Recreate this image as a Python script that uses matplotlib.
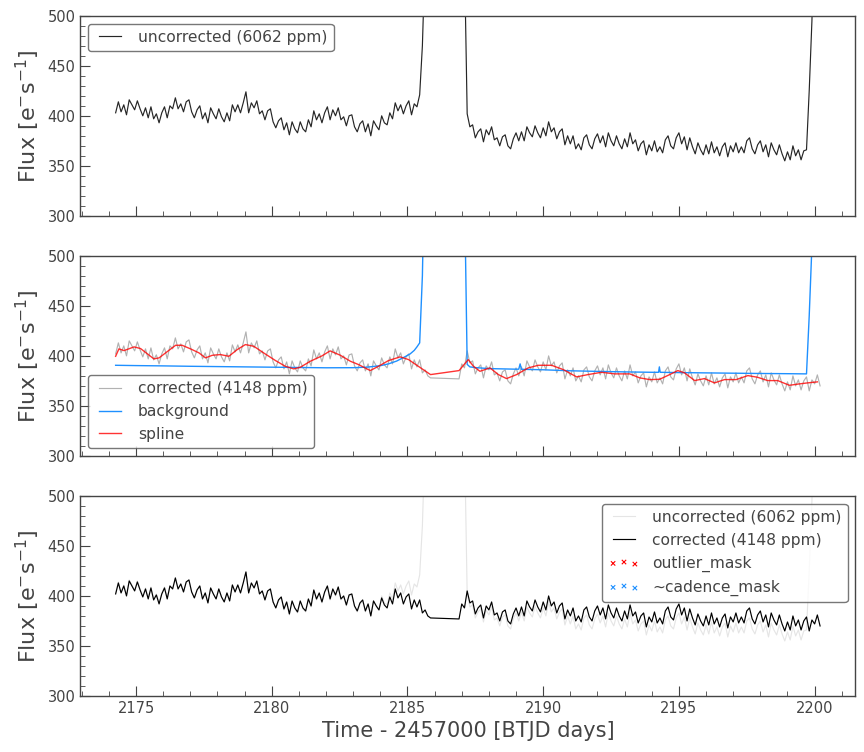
import numpy as np
import matplotlib
matplotlib.use('Agg')
import matplotlib.pyplot as plt

TXT = '#444444'
plt.rcParams.update({
    'font.family': 'DejaVu Sans', 'font.size': 10.5,
    'text.color': TXT, 'axes.labelcolor': TXT, 'axes.edgecolor': TXT,
    'xtick.color': TXT, 'ytick.color': TXT, 'axes.linewidth': 1.0,
    'xtick.direction': 'in', 'ytick.direction': 'in',
    'xtick.minor.visible': True, 'ytick.minor.visible': True,
    'xtick.major.size': 7, 'xtick.minor.size': 3.5,
    'ytick.major.size': 7, 'ytick.minor.size': 3.5,
    'xtick.labelsize': 10.5, 'ytick.labelsize': 10.5,
    'axes.labelsize': 16, 'legend.fontsize': 11.2,
    'legend.numpoints': 3, 'legend.scatterpoints': 3,
    'legend.edgecolor': '#555555', 'legend.fancybox': True,
})

# cadence times (BTJD), two orbits
t_orb1 = np.round(np.arange(2174.25, 2185.86, 0.1), 2)
t_orb2 = np.round(np.arange(2186.9, 2200.21, 0.1), 2)

unc_orb1 = [403, 414, 404, 411, 401, 416, 411, 406, 415, 407,
            400, 408, 398, 409, 397, 402, 393, 403, 409, 398,
            410, 407, 418, 407, 412, 404, 414, 416, 404, 398,
            406, 410, 397, 403, 393, 408, 402, 397, 407, 399,
            394, 403, 395, 411, 404, 411, 403, 413, 424, 403,
            413, 408, 415, 402, 405, 396, 405, 407, 394, 388,
            395, 398, 386, 393, 381, 394, 387, 383, 394, 387,
            384, 396, 389, 405, 396, 402, 393, 403, 409, 396,
            406, 400, 408, 396, 399, 390, 400, 401, 389, 384,
            392, 395, 384, 392, 380, 395, 390, 386, 400, 393,
            391, 403, 397, 413, 405, 411, 402, 410, 415, 401,
            412, 409, 421, 470, 560, 700, 900]
unc_orb2 = [1000, 750, 560, 402, 389, 391, 378, 384, 387, 374,
            386, 381, 389, 376, 378, 370, 379, 381, 370, 367,
            377, 383, 375, 384, 375, 389, 383, 379, 390, 383,
            378, 388, 380, 394, 384, 388, 377, 384, 387, 371,
            380, 372, 380, 367, 372, 366, 378, 381, 371, 367,
            377, 382, 373, 380, 369, 383, 375, 370, 380, 372,
            367, 377, 369, 383, 372, 376, 365, 372, 375, 361,
            371, 365, 375, 364, 369, 363, 376, 380, 370, 367,
            378, 383, 372, 379, 366, 378, 369, 362, 373, 366,
            361, 371, 362, 374, 363, 369, 360, 369, 373, 359,
            370, 364, 373, 363, 369, 363, 375, 378, 367, 362,
            371, 375, 364, 371, 359, 373, 366, 361, 371, 362,
            355, 364, 356, 370, 360, 366, 356, 365, 366, 425,
            495, 600, 750, 900]

corr_orb1 = [402, 413, 403, 410, 400, 415, 410, 405, 414, 406,
             399, 407, 397, 408, 396, 401, 392, 402, 408, 397,
             410, 407, 418, 407, 412, 404, 414, 416, 404, 398,
             406, 410, 397, 403, 393, 408, 402, 397, 407, 399,
             394, 403, 395, 411, 404, 411, 403, 413, 424, 403,
             413, 408, 415, 402, 405, 396, 405, 407, 394, 388,
             396, 399, 387, 394, 382, 395, 388, 384, 395, 388,
             385, 397, 390, 406, 397, 403, 394, 404, 410, 397,
             407, 401, 409, 397, 400, 391, 401, 402, 390, 385,
             393, 396, 385, 392, 380, 395, 390, 386, 398, 391,
             388, 399, 392, 407, 398, 403, 392, 399, 402, 387,
             396, 389, 396, 383, 386, 380, 378]
corr_orb2 = [377, 392, 388, 405, 393, 395, 382, 388, 391, 378,
             390, 386, 394, 381, 383, 375, 384, 386, 375, 372,
             382, 388, 380, 389, 380, 395, 389, 385, 396, 389,
             384, 394, 386, 400, 390, 394, 383, 390, 393, 377,
             386, 380, 388, 375, 380, 374, 386, 389, 379, 375,
             385, 390, 381, 388, 377, 391, 383, 378, 388, 380,
             375, 385, 377, 391, 380, 384, 373, 380, 383, 369,
             379, 374, 384, 373, 378, 372, 385, 389, 379, 376,
             387, 392, 381, 388, 375, 387, 378, 371, 382, 375,
             370, 380, 371, 383, 372, 378, 369, 378, 382, 368,
             379, 374, 383, 373, 379, 373, 385, 388, 377, 372,
             381, 385, 374, 381, 369, 383, 376, 371, 381, 372,
             365, 374, 366, 380, 370, 376, 366, 375, 379, 365,
             376, 372, 381, 370]

bg_t = [2174.25, 2175, 2176, 2177, 2178, 2179, 2180, 2181, 2182, 2183,
        2183.5, 2184, 2184.3, 2184.6, 2184.9, 2185.1, 2185.25, 2185.35, 2185.45, 2185.55,
        2185.65, 2186.2, 2186.9, 2187.0, 2187.1, 2187.2, 2187.3, 2187.5, 2188, 2189,
        2189.1, 2189.15, 2189.2, 2190, 2191, 2192, 2193, 2194, 2194.25, 2194.28,
        2194.31, 2195, 2196, 2197, 2198, 2199, 2199.7, 2199.8, 2199.9, 2200.0, 2200.2]
bg_f = [390.6, 390.3, 390.0, 389.6, 389.3, 389.0, 388.7, 388.4, 388.1, 388.2,
        388.7, 390.2, 392.0, 394.8, 399.0, 402.0, 405.5, 409.0, 413.0, 480.0,
        620.0, 2000.0, 1000.0, 760.0, 570.0, 391.5, 389.0, 388.3, 387.3, 386.7,
        386.7, 392.0, 386.6, 386.1, 385.1, 384.5, 384.0, 383.6, 383.6, 389.0,
        383.6, 383.3, 383.0, 382.7, 382.4, 382.2, 382.0, 440.0, 510.0, 620.0, 900.0]

spl_t = [2174.25, 2174.37, 2174.56, 2174.93, 2175.17, 2175.42, 2175.66, 2175.85, 2176.09, 2176.46,
         2176.7, 2177.01, 2177.32, 2177.56, 2177.81, 2178.11, 2178.42, 2178.73, 2179.03, 2179.34,
         2179.7, 2180.14, 2180.5, 2180.81, 2181.05, 2181.42, 2181.85, 2182.15, 2182.53, 2182.9,
         2183.2, 2183.63, 2183.93, 2184.3, 2184.73, 2185.04, 2185.4, 2185.85, 2186.9, 2187.24,
         2187.43, 2187.67, 2188.04, 2188.35, 2188.65, 2189.02, 2189.45, 2189.82, 2190.31, 2190.74,
         2191.23, 2191.65, 2192.15, 2192.64, 2193.19, 2193.56, 2193.92, 2194.29, 2194.66, 2194.96,
         2195.21, 2195.58, 2195.94, 2196.31, 2196.68, 2197.11, 2197.54, 2197.9, 2198.27, 2198.64,
         2199.07, 2199.44, 2199.74, 2200.1]
spl_f = [399.6, 407.0, 405.3, 409.0, 407.3, 402.0, 397.0, 398.0, 403.0, 410.6,
         410.6, 407.0, 403.0, 398.0, 400.6, 401.3, 399.6, 406.3, 411.3, 409.6,
         403.0, 395.3, 389.6, 387.0, 388.6, 394.6, 400.0, 405.0, 400.6, 394.6,
         391.3, 385.3, 389.6, 395.3, 399.0, 396.3, 389.6, 381.3, 385.3, 396.3,
         389.6, 384.6, 388.0, 381.3, 377.3, 381.3, 388.0, 390.6, 390.6, 386.3,
         379.0, 381.3, 383.6, 382.0, 382.0, 378.0, 376.3, 376.6, 381.3, 385.3,
         383.0, 375.3, 377.3, 373.0, 376.3, 376.3, 380.3, 378.6, 375.3, 375.3,
         370.6, 372.0, 373.0, 374.0]

# no flagged cadences fall in the plotted range
outlier_t, outlier_f = [], []
cadence_t, cadence_f = [], []

UNC_LBL = 'uncorrected (6062 ppm)'
COR_LBL = 'corrected (4148 ppm)'
YLBL = r'Flux [e$^{-}$s$^{-1}$]'

t = np.concatenate([t_orb1, t_orb2])
unc = np.array(unc_orb1 + unc_orb2, float)
corr = np.array(corr_orb1 + corr_orb2, float)

fig, axs = plt.subplots(3, 1, figsize=(8.64, 7.52), dpi=100, sharex=True)
fig.subplots_adjust(left=0.093, right=0.99, top=0.979, bottom=0.0745, hspace=0.2)

ax = axs[0]
ax.plot(t, unc, color='k', lw=0.85, alpha=0.85, label=UNC_LBL)
ax.legend(loc='upper left')

ax = axs[1]
ax.plot(t, corr, color='k', lw=0.85, alpha=0.3, label=COR_LBL)
ax.plot(bg_t, bg_f, color='dodgerblue', lw=1.0, label='background')
ax.plot(spl_t, spl_f, color='r', lw=1.0, alpha=0.8, label='spline')
ax.legend(loc='lower left')

ax = axs[2]
ax.plot(t, unc, color='k', lw=0.85, alpha=0.1, label=UNC_LBL)
ax.plot(t, corr, color='k', lw=0.85, label=COR_LBL)
ax.scatter(outlier_t, outlier_f, c='r', marker='x', s=10, linewidths=0.8, label='outlier_mask')
ax.scatter(cadence_t, cadence_f, c='dodgerblue', marker='x', s=10, linewidths=0.8, label='~cadence_mask')
ax.legend(loc='upper right')
ax.set_xlabel('Time - 2457000 [BTJD days]', fontsize=15)

for ax in axs:
    ax.set_ylim(300, 500)
    ax.set_ylabel(YLBL)
    ax.tick_params(which='both', top=False, right=False)
ax.set_xlim(2172.95, 2201.5)

fig.savefig('out.png')
